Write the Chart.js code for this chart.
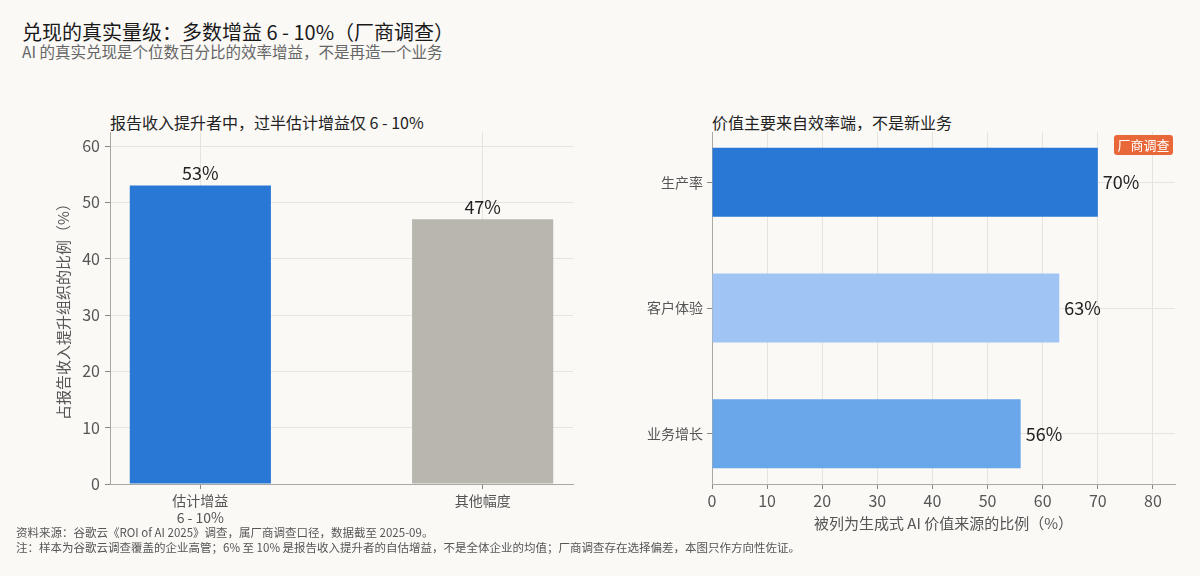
<!DOCTYPE html>
<html><head><meta charset="utf-8">
<script src="https://cdn.jsdelivr.net/npm/chart.js@4"></script>
<style>
html,body{margin:0;padding:0;background:#faf9f6;width:1200px;height:576px;overflow:hidden;font-family:"Noto Sans CJK SC","Noto Sans",sans-serif;}
.t{position:absolute;white-space:nowrap;}
#c1{position:absolute;left:0;top:100px;}
#c2{position:absolute;left:600px;top:100px;}
</style></head><body>
<div class="t" style="left:22px;top:17px;font-size:20px;color:#1a1a1a;">兑现的真实量级：多数增益 6 - 10%（厂商调查）</div>
<div class="t" style="left:22px;top:40px;font-size:15.5px;color:#666;">AI 的真实兑现是个位数百分比的效率增益，不是再造一个业务</div>
<div class="t" style="left:110px;top:110px;font-size:16px;color:#222;">报告收入提升者中，过半估计增益仅 6 - 10%</div>
<div class="t" style="left:712px;top:110px;font-size:16px;color:#222;">价值主要来自效率端，不是新业务</div>
<canvas id="c1" width="600" height="476"></canvas>
<canvas id="c2" width="600" height="476"></canvas>
<div class="t" style="left:1114px;top:135px;width:59px;height:20px;line-height:20px;text-align:center;background:#e8683a;color:#fff;font-size:13px;border-radius:3px;">厂商调查</div>
<div class="t" style="left:16px;top:524px;font-size:11.5px;color:#555;">资料来源：谷歌云《ROI of AI 2025》调查，属厂商调查口径，数据截至 2025-09。</div>
<div class="t" style="left:16px;top:539px;font-size:11.5px;color:#555;">注：样本为谷歌云调查覆盖的企业高管；6% 至 10% 是报告收入提升者的自估增益，不是全体企业的均值；厂商调查存在选择偏差，本图只作方向性佐证。</div>
<script>
const leftCategories = [["估计增益","6 - 10%"], "其他幅度"];
const leftValues = [53, 47];
const leftColors = ["#2a78d6", "#b8b6ae"];
const rightCategories = ["生产率", "客户体验", "业务增长"];
const rightValues = [70, 63, 56];
const rightColors = ["#2a78d6", "#a0c4f4", "#6aa6ea"];
const leftTicks = [0, 10, 20, 30, 40, 50, 60];
const rightTicks = [0, 10, 20, 30, 40, 50, 60, 70, 80];

const FONT = '"Noto Sans CJK SC","Noto Sans",sans-serif';
Chart.defaults.font.family = FONT;
Chart.defaults.animation = false;
const GRID = "#e6e4de", SPINE = "#aaa8a2", TICK = "#8a8882", LBL = "#555";

const valueLabels = {
  id: "valueLabels",
  afterDatasetsDraw(chart, args, opts) {
    const ctx = chart.ctx;
    const meta = chart.getDatasetMeta(0);
    ctx.save();
    ctx.fillStyle = "#222";
    ctx.font = "18px " + FONT;
    meta.data.forEach((el, i) => {
      const v = chart.data.datasets[0].data[i];
      const val = opts.horizontal ? v.x : v.y;
      if (opts.horizontal) {
        ctx.textAlign = "left"; ctx.textBaseline = "middle";
        ctx.fillText(val + "%", el.x + 5, el.y);
      } else {
        ctx.textAlign = "center"; ctx.textBaseline = "bottom";
        ctx.fillText(val + "%", el.x, el.y - 3);
      }
    });
    ctx.restore();
  }
};

new Chart(document.getElementById("c1"), {
  type: "bar",
  data: { datasets: [{
    data: leftValues.map((v, i) => ({x: i, y: v})),
    backgroundColor: leftColors,
    borderWidth: 0,
    categoryPercentage: 1, barPercentage: 0.5
  }]},
  options: {
    responsive: false,
    layout: { padding: { left: 54, right: 27, top: 32, bottom: 0 } },
    plugins: { legend: {display: false}, tooltip: {enabled: false}, valueLabels: {horizontal: false} },
    scales: {
      x: {
        type: "linear", min: -0.32, max: 1.32, offset: false,
        afterBuildTicks: s => { s.ticks = leftValues.map((v, i) => ({value: i})); },
        afterFit: s => { s.height = 92; },
        ticks: { color: LBL, font: {size: 14}, padding: 3, callback: v => leftCategories[v] },
        grid: { color: GRID, tickColor: TICK, tickLength: 5, offset: false },
        border: { color: SPINE }
      },
      y: {
        min: 0, max: 62.5,
        afterBuildTicks: s => { s.ticks = leftTicks.map(v => ({value: v})); },
        afterFit: s => { s.width = 56; },
        ticks: { color: LBL, font: {size: 16}, padding: 5 },
        grid: { color: GRID, tickColor: TICK, tickLength: 5 },
        border: { color: SPINE },
        title: { display: true, text: "占报告收入提升组织的比例（%）", color: LBL, font: {size: 15}, padding: {top: 0, bottom: 0} }
      }
    }
  },
  plugins: [valueLabels]
});

new Chart(document.getElementById("c2"), {
  type: "bar",
  data: { datasets: [{
    data: rightValues.map((v, i) => ({x: v, y: i})),
    backgroundColor: rightColors,
    borderWidth: 0,
    categoryPercentage: 1, barPercentage: 0.55
  }]},
  options: {
    indexAxis: "y",
    responsive: false,
    layout: { padding: { left: 0, right: 25, top: 32, bottom: 44 } },
    plugins: { legend: {display: false}, tooltip: {enabled: false}, valueLabels: {horizontal: true} },
    scales: {
      x: {
        type: "linear", min: 0, max: 84,
        afterBuildTicks: s => { s.ticks = rightTicks.map(v => ({value: v})); },
        afterFit: s => { s.height = 48; },
        ticks: { color: LBL, font: {size: 16}, padding: 2 },
        grid: { color: GRID, tickColor: TICK, tickLength: 5 },
        border: { color: SPINE },
        title: { display: true, text: "被列为生成式 AI 价值来源的比例（%）", color: LBL, font: {size: 15}, padding: {top: 0, bottom: 0} }
      },
      y: {
        type: "linear", min: -0.4, max: 2.4, reverse: true, offset: false,
        afterBuildTicks: s => { s.ticks = rightCategories.map((c, i) => ({value: i})); },
        afterFit: s => { s.width = 112; },
        ticks: { color: LBL, font: {size: 14}, padding: 4, callback: v => rightCategories[v] },
        grid: { color: GRID, tickColor: TICK, tickLength: 5, offset: false },
        border: { color: SPINE }
      }
    }
  },
  plugins: [valueLabels]
});
</script>
</body></html>
